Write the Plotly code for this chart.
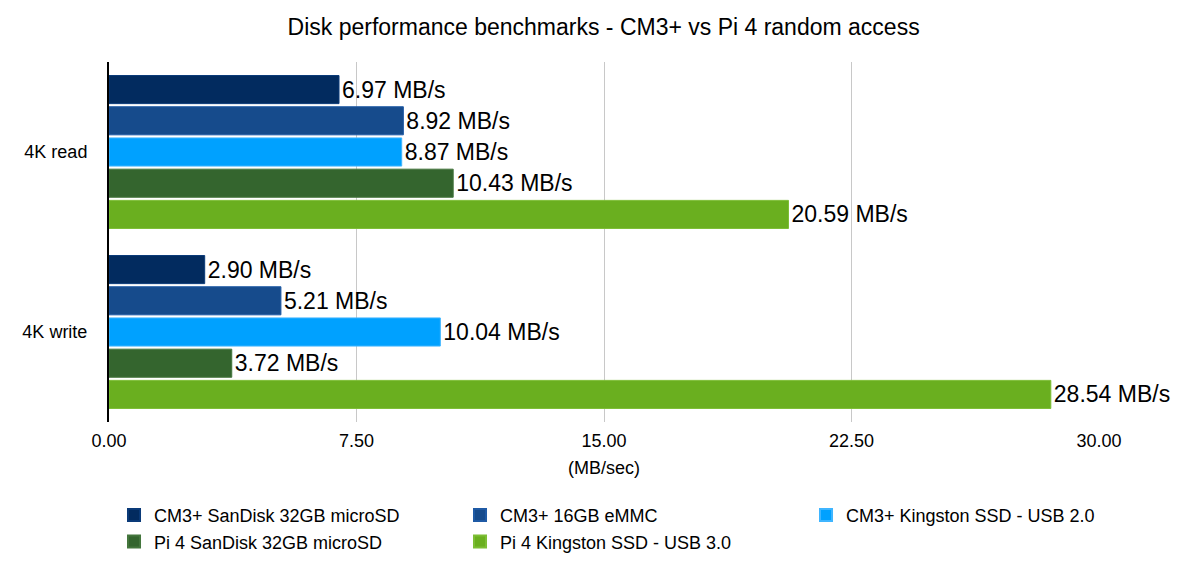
import plotly.graph_objects as go

categories = ["4K read", "4K write"]
series_names = [
    "CM3+ SanDisk 32GB microSD",
    "CM3+ 16GB eMMC",
    "CM3+ Kingston SSD - USB 2.0",
    "Pi 4 SanDisk 32GB microSD",
    "Pi 4 Kingston SSD - USB 3.0",
]
series_values = [
    [6.97, 2.90],
    [8.92, 5.21],
    [8.87, 10.04],
    [10.43, 3.72],
    [20.59, 28.54],
]
colors = ["#022B5F", "#164B8C", "#00A1FF", "#34652E", "#6AAF1F"]
line_colors = ["#0A3A78", "#1F5AA5", "#3FB5FF", "#44763D", "#7DBE35"]
tick_vals = [0, 7.5, 15, 22.5, 30]

fig = go.Figure()
for name, vals, c, lc in zip(series_names, series_values, colors, line_colors):
    fig.add_trace(go.Bar(
        y=categories, x=vals, name=name, orientation="h",
        marker=dict(color=c, line=dict(color=lc, width=1)),
        text=[f"{v:.2f} MB/s" for v in vals],
        textposition="outside",
        textfont=dict(size=23, color="#000000"),
        cliponaxis=False,
    ))

font_family = "Liberation Sans, Arial, Helvetica, sans-serif"
fig.update_layout(
    width=1200, height=568,
    paper_bgcolor="white", plot_bgcolor="white",
    font=dict(family=font_family, color="#000000", size=18),
    title=dict(text="Disk performance benchmarks - CM3+ vs Pi 4 random access",
               x=0.503, xanchor="center", y=0.952, yanchor="middle",
               font=dict(size=23, color="#000000")),
    margin=dict(l=109, r=101, t=62, b=146, autoexpand=False),
    barmode="group", bargap=0.133, bargroupgap=0.1,
    showlegend=True,
    legend=dict(orientation="h", x=-0.001, xanchor="left",
                y=-0.208, yanchor="top", indentation=6,
                entrywidth=295, font=dict(size=18, color="#000000"),
                traceorder="normal", itemsizing="constant"),
    xaxis=dict(range=[0, 30], tickvals=tick_vals, tickformat=".2f",
               showgrid=True, gridcolor="#C8C8C8", gridwidth=1,
               zeroline=False, showline=False, ticks="",
               ticklabelstandoff=6,
               tickfont=dict(size=18, color="#000000"),
               title=dict(text="(MB/sec)", font=dict(size=18, color="#000000"), standoff=11)),
    yaxis=dict(autorange="reversed", showgrid=False, zeroline=False,
               showline=True, linecolor="#000000", linewidth=2,
               ticks="", ticklabelstandoff=16,
               tickfont=dict(size=18, color="#000000")),
)

fig.write_html("out.html")
